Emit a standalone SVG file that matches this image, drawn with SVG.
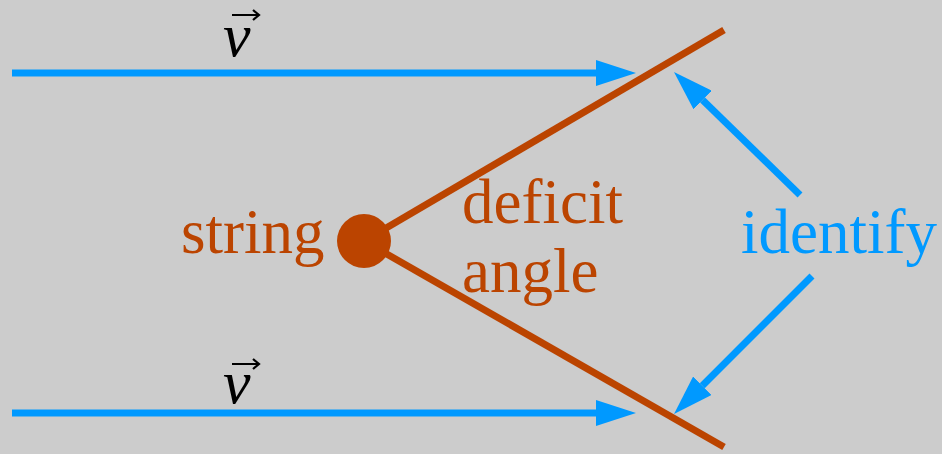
<svg xmlns="http://www.w3.org/2000/svg" width="942" height="454" viewBox="0 0 942 454">
<defs>
<style>
.blue{stroke:#0099ff;stroke-width:7;fill:none}
.or{stroke:#bb4400;stroke-width:7;fill:none}
.lbl{font-family:"Liberation Serif","Times New Roman",serif;font-size:63px}
.vec{font-family:"Liberation Serif","Times New Roman",serif;font-size:62px;font-style:italic;fill:#000}
.va{stroke:#000;stroke-width:2.2;fill:none}
</style>
<marker id="ah" viewBox="0 0 40 26" refX="0" refY="13" markerWidth="40" markerHeight="26" markerUnits="userSpaceOnUse" orient="auto">
<path d="M0,0 L40,13 L0,26 z" fill="#0099ff"/>
</marker>
</defs>
<rect width="942" height="454" fill="#cccccc"/>
<g id="connectors">
<line class="blue" x1="12" y1="73" x2="596" y2="73" marker-end="url(#ah)"/>
<line class="blue" x1="12" y1="413" x2="596" y2="413" marker-end="url(#ah)"/>
<line class="blue" x1="800" y1="195" x2="702.6" y2="100" marker-end="url(#ah)"/>
<line class="blue" x1="812" y1="276" x2="702.3" y2="385.7" marker-end="url(#ah)"/>
</g>
<g id="cone">
<line class="or" x1="364" y1="241" x2="724" y2="30"/>
<line class="or" x1="364" y1="241" x2="724" y2="447"/>
</g>
<g id="string">
<circle cx="364" cy="241" r="27" fill="#bb4400"/>
<text class="lbl" x="181" y="253" fill="#bb4400">string</text>
</g>
<g id="deficit">
<text class="lbl" x="462" y="223" fill="#bb4400">deficit</text>
<text class="lbl" x="462" y="292" fill="#bb4400">angle</text>
</g>
<g id="identify">
<text class="lbl" x="741" y="253" fill="#0099ff">identify</text>
</g>
<g id="v-top">
<text class="vec" x="223" y="56">v</text>
<path class="va" d="M232,15 H259 M253,10 L259,15 L253,20"/>
</g>
<g id="v-bottom">
<text class="vec" x="223" y="403">v</text>
<path class="va" d="M232,364 H259 M253,359 L259,364 L253,369"/>
</g>
</svg>
